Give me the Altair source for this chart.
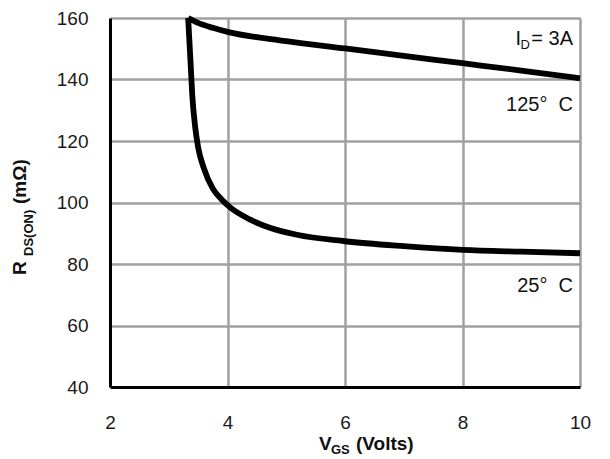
import altair as alt
import pandas as pd

FONT = "Liberation Sans"

# 25 °C curve (VGS in volts, RDS(on) in mOhm)
vgs_25c = [3.33, 3.37, 3.40, 3.45, 3.50, 3.60, 3.75, 3.90, 4.04, 4.38, 4.72, 5.18, 6.0, 7.0, 8.0, 9.0, 10.0]
rds_25c = [160, 146.0, 135.0, 124.5, 118.0, 111.0, 104.5, 101.0, 98.5, 94.5, 91.8, 89.5, 87.4, 85.8, 84.6, 84.0, 83.5]

# 125 °C curve
vgs_125c = [3.33, 3.5, 3.75, 4.0, 5.0, 6.0, 7.0, 8.0, 9.0, 10.0]
rds_125c = [160, 158.4, 156.8, 155.5, 152.5, 150.1, 147.7, 145.3, 142.9, 140.4]

x_ticks = [2, 4, 6, 8, 10]
y_ticks = [40, 60, 80, 100, 120, 140, 160]

df = pd.DataFrame({
    "vgs": vgs_25c + vgs_125c,
    "rds": rds_25c + rds_125c,
    "temp": ["25C"] * len(vgs_25c) + ["125C"] * len(vgs_125c),
})

x_enc = alt.X(
    "vgs:Q",
    scale=alt.Scale(domain=[2, 10], nice=False, zero=False),
    axis=alt.Axis(values=x_ticks, title=None, labelPadding=26, format="d", labelFlush=False,
                  gridOpacity={"condition": {"test": "datum.value === 2", "value": 0}, "value": 1}),
)
y_enc = alt.Y(
    "rds:Q",
    scale=alt.Scale(domain=[40, 160], nice=False, zero=False),
    axis=alt.Axis(values=y_ticks, title=None, labelPadding=22, format="d", labelFlush=False,
                  gridOpacity={"condition": {"test": "datum.value === 40", "value": 0}, "value": 1}),
)

lines = alt.Chart(df).mark_line(
    color="black", strokeWidth=5.8, interpolate="monotone"
).encode(x=x_enc, y=y_enc, detail="temp:N")


def note(text, vgs, rds, size, dx):
    return alt.Chart(pd.DataFrame({"vgs": [vgs], "rds": [rds], "t": [text]})).mark_text(
        align="right", baseline="alphabetic", dx=dx, fontSize=size, font=FONT, color="#111"
    ).encode(x=x_enc, y=y_enc, text="t:N")


def title_piece(text, px, py, size, angle=0):
    return alt.Chart(pd.DataFrame({"t": [text]})).mark_text(
        align="left", baseline="alphabetic", fontSize=size, fontWeight="bold",
        font=FONT, angle=angle, color="#111"
    ).encode(x=alt.value(px), y=alt.value(py), text="t:N")


notes = [
    note("= 3A", 10, 151.2, 20, -7),
    note("D", 10, 149.9, 13, -50),
    note("I", 10, 151.2, 20, -59),
    note("125°\u00a0 C", 10, 129.8, 20, -7),
    note("25°\u00a0 C", 10, 70.9, 20, -7),
]

titles = [
    title_piece("V", 209, 432, 19),
    title_piece("GS", 221, 436, 13),
    title_piece("(Volts)", 246, 432, 19),
    title_piece("R", -84, 257, 19, 270),
    title_piece("DS(ON)", -77, 238, 13, 270),
    title_piece("(mΩ)", -84, 186, 19, 270),
]

chart = alt.layer(lines, *notes, *titles).properties(
    width=470,
    height=369,
    autosize=alt.AutoSizeParams(type="none"),
    padding={"left": 102, "top": 10, "right": 20, "bottom": 70},
).configure_axis(
    labelFont=FONT,
    labelFontSize=19,
    labelColor="#1a1a1a",
    domainColor="black",
    domainWidth=3,
    ticks=False,
    gridColor="#a0a0a0",
    gridWidth=2.5,
).configure_view(
    strokeOpacity=0
)

chart.save("out.html", embed_options={"renderer": "svg", "actions": False})
